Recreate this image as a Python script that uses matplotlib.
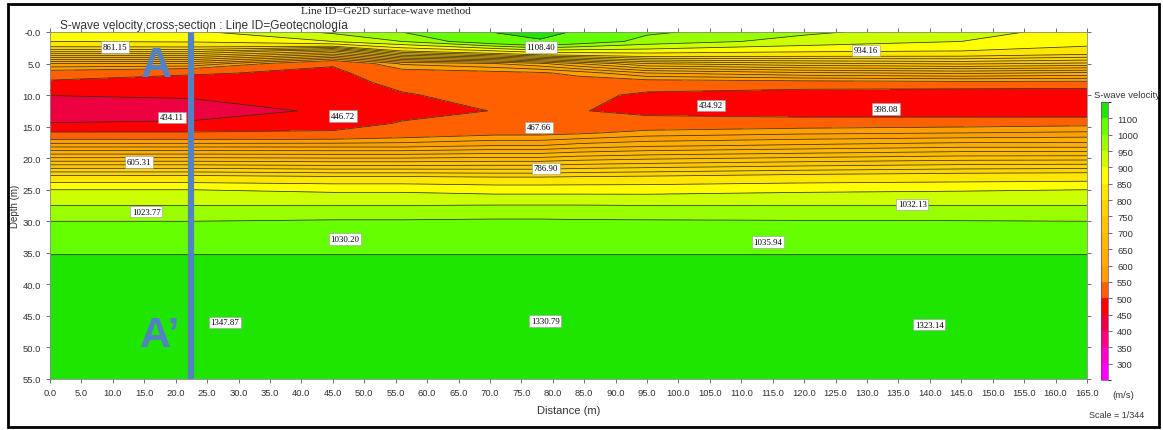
import numpy as np
import matplotlib.pyplot as plt
import matplotlib as mpl
from matplotlib.colors import ListedColormap, BoundaryNorm
from matplotlib.patches import Rectangle

mpl.rcParams["font.family"] = ["Liberation Sans", "DejaVu Sans"]

# grid nodes (distance in m, depth in m, Vs in m/s)
dist_nodes = [0, 22.5, 45, 56, 71, 78, 84, 95, 120, 145, 165]
depth_nodes = [0, 1.5, 3, 5, 6.5, 8, 10, 12.5, 14.5, 16, 18, 25, 27.5, 30, 35.3, 35.7, 55]
vs_profiles = [
    [880, 850, 760, 600, 530, 490, 451, 420, 452, 505, 590, 900, 950, 1000, 1100, 1345, 1350],
    [890, 855, 760, 600, 505, 480, 455, 432, 455, 505, 590, 900, 950, 1000, 1100, 1345, 1348],
    [960, 900, 700, 505, 490, 480, 470, 456, 470, 510, 590, 890, 950, 1005, 1100, 1335, 1340],
    [1000, 950, 800, 580, 530, 515, 495, 480, 505, 525, 590, 890, 950, 1005, 1100, 1330, 1332],
    [1105, 1050, 850, 600, 540, 530, 520, 502, 515, 540, 600, 880, 952, 1008, 1100, 1330, 1331],
    [1130, 1090, 880, 620, 545, 530, 520, 510, 520, 540, 600, 880, 952, 1008, 1100, 1330, 1330],
    [1090, 1040, 880, 650, 560, 530, 515, 503, 520, 545, 610, 880, 952, 1006, 1100, 1328, 1329],
    [1010, 980, 880, 700, 600, 530, 490, 485, 525, 560, 620, 880, 950, 1005, 1100, 1326, 1327],
    [960, 930, 860, 720, 620, 535, 470, 470, 530, 570, 630, 890, 950, 1003, 1100, 1324, 1325],
    [920, 900, 850, 730, 630, 540, 460, 465, 535, 575, 640, 895, 950, 1002, 1100, 1323, 1323],
    [880, 870, 830, 720, 620, 540, 455, 460, 540, 580, 640, 900, 950, 1000, 1100, 1322, 1322],
]

# value labels printed on the section
label_x = [10.3, 78.1, 129.8, 19.4, 46.6, 77.8, 105.2, 133.0, 14.2, 78.9, 15.3, 137.2, 46.9, 114.2, 27.8, 78.8, 139.9]
label_d = [2.4, 2.4, 2.9, 13.5, 13.3, 15.1, 11.6, 12.2, 20.6, 21.6, 28.5, 27.3, 32.8, 33.3, 46.0, 45.8, 46.4]
label_vals = [861.15, 1108.40, 934.16, 434.11, 446.72, 467.66, 434.92, 398.08, 605.31,
              786.90, 1023.77, 1032.13, 1030.20, 1035.94, 1347.87, 1330.79, 1323.14]

# colour scale
cbar_ticks = [300, 350, 400, 450, 500, 550, 600, 650, 700, 750, 800, 850, 900, 950, 1000, 1100]
band_colors = ["#FF00FF", "#FF00CC", "#FF0080", "#EC0040", "#FF0000", "#FF6000", "#FFA000",
               "#FFAE00", "#FFBA00", "#FFC600", "#FFD400", "#FFE600", "#FFFF00", "#CCFF00",
               "#99FF00", "#66FF00", "#1FE600"]
extra_lines = [575, 625, 675, 725, 775]
section_x = 22.5

X, D = np.meshgrid(dist_nodes, depth_nodes)
V = np.array(vs_profiles).T

fill_levels = [0] + cbar_ticks + [3000]
line_levels = sorted(set(cbar_ticks[3:] + extra_lines))

fig = plt.figure(figsize=(11.63, 4.31), dpi=100, facecolor="w")
ax = fig.add_axes([50 / 1163, 1 - 380 / 431, 1037 / 1163, 347 / 431])

ax.contourf(X, D, V, levels=fill_levels, colors=band_colors)
ax.contour(X, D, V, levels=line_levels, colors="#3a3020", linewidths=0.55)

for lx, ld, lv in zip(label_x, label_d, label_vals):
    ax.text(lx, ld, f"{lv:.2f}", fontsize=6.3, family=["Liberation Serif"], ha="center", va="center",
            bbox=dict(facecolor="white", edgecolor="#999999", lw=0.4, pad=1.2))

# A - A' section marker
ax.axvline(section_x, color="#5282C2", lw=4.5)
ax.text(17.0, 5.3, "A", fontsize=31, fontweight="bold", color="#5282C2", ha="center", va="center")
ax.text(17.5, 48.0, "A\u2019", fontsize=31, fontweight="bold", color="#5282C2", ha="center", va="center")

ax.set_xlim(0, 165)
ax.set_ylim(55, 0)
ax.set_xticks(np.arange(0, 166, 5))
ax.set_xticklabels([f"{v:.1f}" for v in np.arange(0, 166, 5)])
ax.set_yticks(np.arange(0, 56, 5))
ax.set_yticklabels(["-0.0"] + [f"{v:.1f}" for v in np.arange(5, 56, 5)])
ax.tick_params(direction="out", length=3, width=0.6, labelsize=6.8, colors="#555555",
               labelcolor="#333333", top=True, right=True)
for s in ax.spines.values():
    s.set_color("#888888")
    s.set_linewidth(0.6)
ax.set_xlabel("Distance (m)", fontsize=8, color="#333333", labelpad=6)
ax.set_ylabel("Depth (m)", fontsize=7, color="#333333", labelpad=2)

# titles
fig.text(60 / 1163, 1 - 26 / 431, "S-wave velocity cross-section : Line ID=Geotecnología",
         fontsize=8.6, color="#333333", va="center")
fig.text(386 / 1163, 1 - 11 / 431, "Line ID=Ge2D surface-wave method", fontsize=8.2,
         family=["Liberation Serif"], color="#222222", ha="center", va="center")

# colour bar
cmap = ListedColormap(band_colors)
bounds = [250] + cbar_ticks + [1150]
norm = BoundaryNorm(bounds, cmap.N)
cax = fig.add_axes([1101 / 1163, 1 - 381 / 431, 7 / 1163, 278 / 431])
cb = fig.colorbar(mpl.cm.ScalarMappable(norm=norm, cmap=cmap), cax=cax, boundaries=bounds,
                  spacing="uniform", ticks=cbar_ticks)
cb.ax.set_yticklabels([str(t) for t in cbar_ticks])
cb.ax.tick_params(length=3, width=0.5, labelsize=6.8, labelcolor="#333333", color="#333333")
cb.outline.set_linewidth(0.5)
cb.outline.set_edgecolor("#7a3a7a")
fig.text(1127 / 1163, 1 - 95 / 431, "S-wave velocity", fontsize=6.8, color="#333333",
         ha="center", va="center")
fig.text(1123 / 1163, 1 - 396 / 431, "(m/s)", fontsize=6.8, color="#333333", ha="center", va="center")
fig.text(1117 / 1163, 1 - 416 / 431, "Scale = 1/344", fontsize=6.5, color="#333333",
         ha="center", va="center")

# outer frame
fig.patches.append(Rectangle((8 / 1163, 3 / 431), 1151 / 1163, 423 / 431, transform=fig.transFigure,
                             fill=False, edgecolor="black", lw=2))

fig.savefig("out.png", dpi=100, facecolor="w")
